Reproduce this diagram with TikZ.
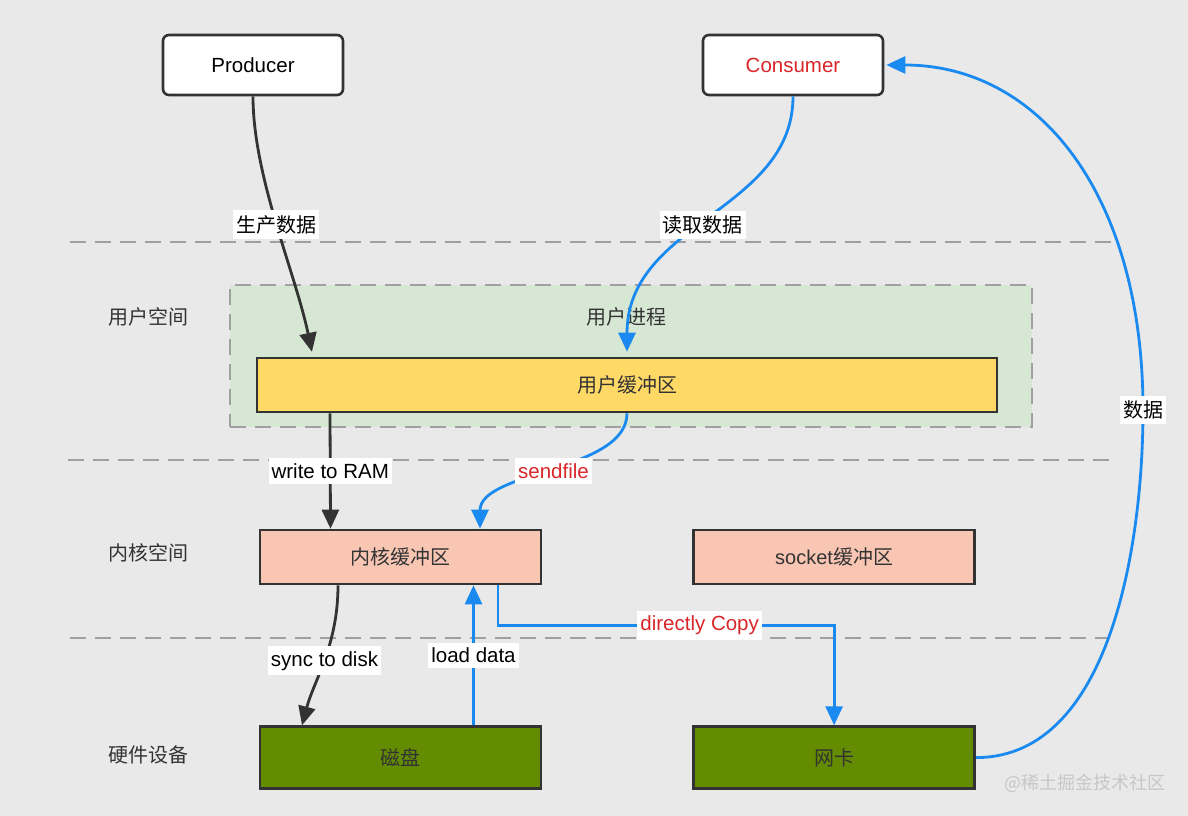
\documentclass[tikz,border=0pt]{standalone}
\usepackage{fontspec}
\setmainfont{Liberation Sans}
\newfontfamily\cjk{Noto Sans CJK SC}
\usetikzlibrary{positioning,arrows.meta}
\definecolor{bggray}{RGB}{233,233,233}
\definecolor{dark}{RGB}{51,51,51}
\definecolor{sepgray}{RGB}{160,160,160}
\definecolor{procgreen}{RGB}{214,232,212}
\definecolor{bufyellow}{RGB}{255,217,102}
\definecolor{kpink}{RGB}{249,198,180}
\definecolor{hwolive}{RGB}{100,140,0}
\definecolor{flowblue}{RGB}{26,138,240}
\definecolor{hlred}{RGB}{217,38,42}

\begin{document}
\begin{tikzpicture}[
    x=1pt, y=-1pt,
    node distance=140pt and 150pt,
    txt/.style={font=\fontsize{20}{24}\selectfont\cjk, text=dark},
    client/.style={rectangle, rounded corners=6pt, draw=dark, line width=2.6pt, fill=white, minimum width=180pt, minimum height=60pt, font=\fontsize{20.5}{24}\selectfont},
    box/.style={rectangle, draw=dark, line width=2.6pt, minimum width=281pt, minimum height=54pt, inner sep=0pt, txt},
    lbl/.style={fill=white, inner xsep=3pt, inner ysep=5pt, text=black, font=\fontsize{20.5}{24}\selectfont},
    sep/.style={sepgray, line width=2.6pt, dash pattern=on 16pt off 9pt},
    blk/.style={-{Triangle[length=19pt,width=17pt]}, line width=2.8pt, dark},
    blu/.style={-{Triangle[length=19pt,width=17pt]}, line width=2.8pt, flowblue}
]
    \fill[bggray] (0,0) rectangle (1188,816);

    \draw[sep] (70,242) -- (1115,242);
    \draw[sep] (68,460) -- (1113,460);
    \draw[sep] (70,638) -- (1110,638);

    \node[txt] (userspace) at (148,317) {用户空间};
    \node[txt] (kernelspace) at (148,553) {内核空间};
    \node[txt] (hardware) at (148,755) {硬件设备};

    \node[client] (producer) at (253,65) {Producer};
    \node[client, text=hlred] (consumer) at (793,65) {Consumer};

    \node[rectangle, draw=sepgray, fill=procgreen, line width=2.6pt, dash pattern=on 16pt off 9pt, minimum width=802pt, minimum height=142pt] (uproc) at (631,356) {};
    \node[txt] (uproclabel) at (626,317) {用户进程};
    \node[box, fill=bufyellow, minimum width=740pt] (ubuf) at (627,385) {用户缓冲区};

    \node[box, fill=kpink] (kbuf) at (400.5,557) {内核缓冲区};
    \node[box, fill=kpink, right=of kbuf] (sbuf) {\fontspec{Liberation Sans}socket\cjk 缓冲区};
    \node[box, fill=hwolive, minimum height=62pt, below=of kbuf] (disk) {磁盘};
    \node[box, fill=hwolive, minimum height=62pt, right=of disk] (nic) {网卡};

    \node[font=\fontsize{18}{20}\selectfont\cjk, text=black!22] (mark) at (1085,783) {@稀土掘金技术社区};

    \draw[blk, shorten >=5pt] (producer.south) .. controls +(0,80) and +(-18,-85) .. node[lbl, txt, text=black] {生产数据} ([xshift=-314pt]ubuf.north);
    \draw[blu, shorten >=5pt] (consumer.south) .. controls +(0,115) and +(0,-135) .. node[lbl, txt, text=black, pos=0.53] {读取数据} (ubuf.north);
    \draw[blk] ([xshift=-297pt]ubuf.south) -- node[lbl] {write to RAM} ([xshift=-70pt]kbuf.north);
    \draw[blu] (ubuf.south) .. controls +(0,58) and +(0,-58) .. node[lbl, text=hlred] {sendfile} ([xshift=79.5pt]kbuf.north);
    \draw[blk] ([xshift=-62.5pt]kbuf.south) .. controls +(0,60) and +(12,-45) .. node[lbl] {sync to disk} ([xshift=-98.5pt]disk.north);
    \draw[blu] ([xshift=73pt]disk.north) -- node[lbl] {load data} ([xshift=73pt]kbuf.south);
    \draw[blu] ([xshift=97.5pt]kbuf.south) -- ++(0,40) -| node[lbl, text=hlred, pos=0.3] {directly Copy} (nic.north);
    \draw[blu, shorten >=2pt] (nic.east) .. controls +(136,0) and +(0,130) .. (1143,410) node[lbl, txt, text=black] {数据} .. controls +(0,-215) and +(155,0) .. (consumer.east);
\end{tikzpicture}
\end{document}
